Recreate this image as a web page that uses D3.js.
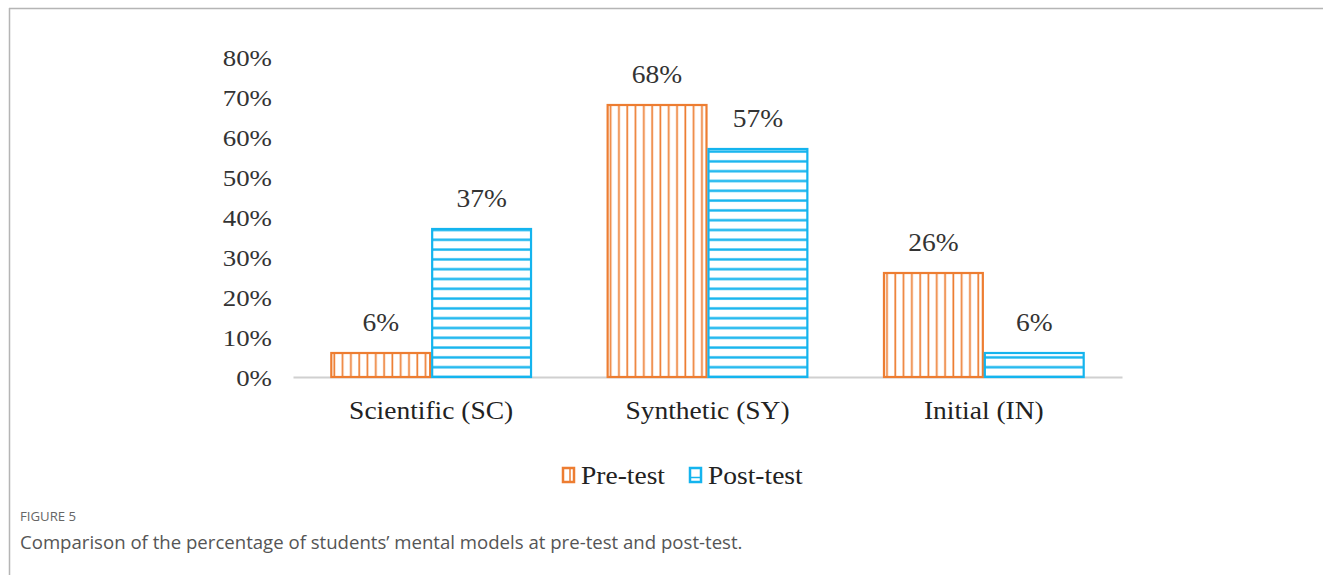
<!DOCTYPE html>
<html><head><meta charset="utf-8">
<script src="https://cdn.jsdelivr.net/npm/d3@7"></script>
<style>
html,body{margin:0;padding:0;background:#fff;}
svg{display:block;}
</style></head>
<body>
<script>
const categories = ["Scientific (SC)", "Synthetic (SY)", "Initial (IN)"];
const seriesNames = ["Pre-test", "Post-test"];
const preTest = [6, 68, 26];
const postTest = [37, 57, 6];
const yTicks = [0, 10, 20, 30, 40, 50, 60, 70, 80];
const colors = {"Pre-test": "#ED7D31", "Post-test": "#14B4EE"};

const W = 1323, H = 575;
const SX = 1.1;
const svg = d3.select("body").append("svg").attr("width", W).attr("height", H);

// frame
svg.append("line").attr("x1", 9).attr("x2", W).attr("y1", 8.5).attr("y2", 8.5).attr("stroke", "#b5b5b5").attr("stroke-width", 1.5);
svg.append("line").attr("x1", 9.5).attr("x2", 9.5).attr("y1", 8).attr("y2", H).attr("stroke", "#b5b5b5").attr("stroke-width", 1.5);

const defs = svg.append("defs");
defs.append("pattern").attr("id", "vpat").attr("patternUnits", "userSpaceOnUse")
  .attr("width", 8.3).attr("height", 10)
  .append("line").attr("x1", 4).attr("x2", 4).attr("y1", 0).attr("y2", 10)
  .attr("stroke", colors["Pre-test"]).attr("stroke-width", 1.7);
defs.append("pattern").attr("id", "hpat").attr("patternUnits", "userSpaceOnUse")
  .attr("width", 10).attr("height", 9.8).attr("y", 377 - 1.5)
  .append("line").attr("x1", 0).attr("x2", 10).attr("y1", 1.5).attr("y2", 1.5)
  .attr("stroke", colors["Post-test"]).attr("stroke-width", 2.4);

const x0 = d3.scaleBand().domain(categories).range([293, 1122]).paddingInner(0.27).paddingOuter(0.135);
const x1 = d3.scaleBand().domain(seriesNames).range([0, x0.bandwidth()]);
const y = d3.scaleLinear().domain([0, 80]).range([377, 57]);

// y axis labels
const yAxis = d3.axisLeft(y).tickValues(yTicks).tickFormat(d => d + "%").tickSize(0).tickPadding(0);
const gy = svg.append("g").attr("transform", "translate(272,0)").call(yAxis);
gy.select(".domain").remove();
gy.selectAll("text").attr("font-family", "'Liberation Serif', serif").attr("font-size", 24).attr("fill", "#333")
  .attr("transform", "scale(1.12,1)").attr("dy", "0.35em");

// x axis baseline
const xAxis = d3.axisBottom(x0).tickSize(0).tickPadding(24);
const gx = svg.append("g").attr("transform", "translate(0,377)").call(xAxis);
gx.select(".domain").attr("stroke", "#d0d0d0").attr("stroke-width", 2);
gx.selectAll("text").attr("font-family", "'Liberation Serif', serif").attr("font-size", 25).attr("fill", "#222")
  .attr("transform", `scale(${SX},1)`);

const data = categories.map((c, i) => ({cat: c, vals: [{s: "Pre-test", v: preTest[i]}, {s: "Post-test", v: postTest[i]}]}));

const groups = svg.append("g").selectAll("g").data(data).join("g")
  .attr("transform", d => `translate(${x0(d.cat)},0)`);

groups.selectAll("rect").data(d => d.vals).join("rect")
  .attr("x", d => x1(d.s) + 1)
  .attr("y", d => y(d.v))
  .attr("width", x1.bandwidth() - 2)
  .attr("height", d => y(0) - y(d.v))
  .attr("fill", d => d.s === "Pre-test" ? "url(#vpat)" : "url(#hpat)")
  .attr("stroke", d => colors[d.s])
  .attr("stroke-width", 2.2);

groups.selectAll("text.lbl").data(d => d.vals).join("text").attr("class", "lbl")
  .attr("transform", d => `translate(${x1(d.s) + x1.bandwidth() / 2},${y(d.v) - 22}) scale(${SX},1)`)
  .attr("text-anchor", "middle")
  .attr("font-family", "'Liberation Serif', serif").attr("font-size", 25).attr("fill", "#333")
  .text(d => d.v + "%");

// legend
const legend = svg.append("g");
const legItems = [{s: "Pre-test", x: 562}, {s: "Post-test", x: 689}];
legItems.forEach(it => {
  const g = legend.append("g").attr("transform", `translate(${it.x},467)`);
  g.append("rect").attr("x", 1).attr("y", 1).attr("width", 11).attr("height", 14)
    .attr("fill", "#fff").attr("stroke", colors[it.s]).attr("stroke-width", 2.5);
  if (it.s === "Pre-test") {
    g.append("line").attr("x1", 8).attr("x2", 8).attr("y1", 1).attr("y2", 15).attr("stroke", colors[it.s]).attr("stroke-width", 1.5);
  } else {
    g.append("line").attr("x1", 1).attr("x2", 12).attr("y1", 10.5).attr("y2", 10.5).attr("stroke", colors[it.s]).attr("stroke-width", 1.5);
  }
  g.append("text").attr("transform", `translate(19,8) scale(${SX},1)`).attr("dy", "0.35em")
    .attr("font-family", "'Liberation Serif', serif").attr("font-size", 25).attr("fill", "#222")
    .text(it.s);
});

// caption
svg.append("text").attr("x", 20).attr("y", 521).attr("font-family", "'Open Sans', sans-serif")
  .attr("font-size", 13.2).attr("fill", "#666").text("FIGURE 5");
svg.append("text").attr("x", 20).attr("y", 549).attr("font-family", "'Open Sans', sans-serif")
  .attr("font-size", 18.6).attr("fill", "#555")
  .text("Comparison of the percentage of students\u2019 mental models at pre-test and post-test.");
</script>
</body></html>
